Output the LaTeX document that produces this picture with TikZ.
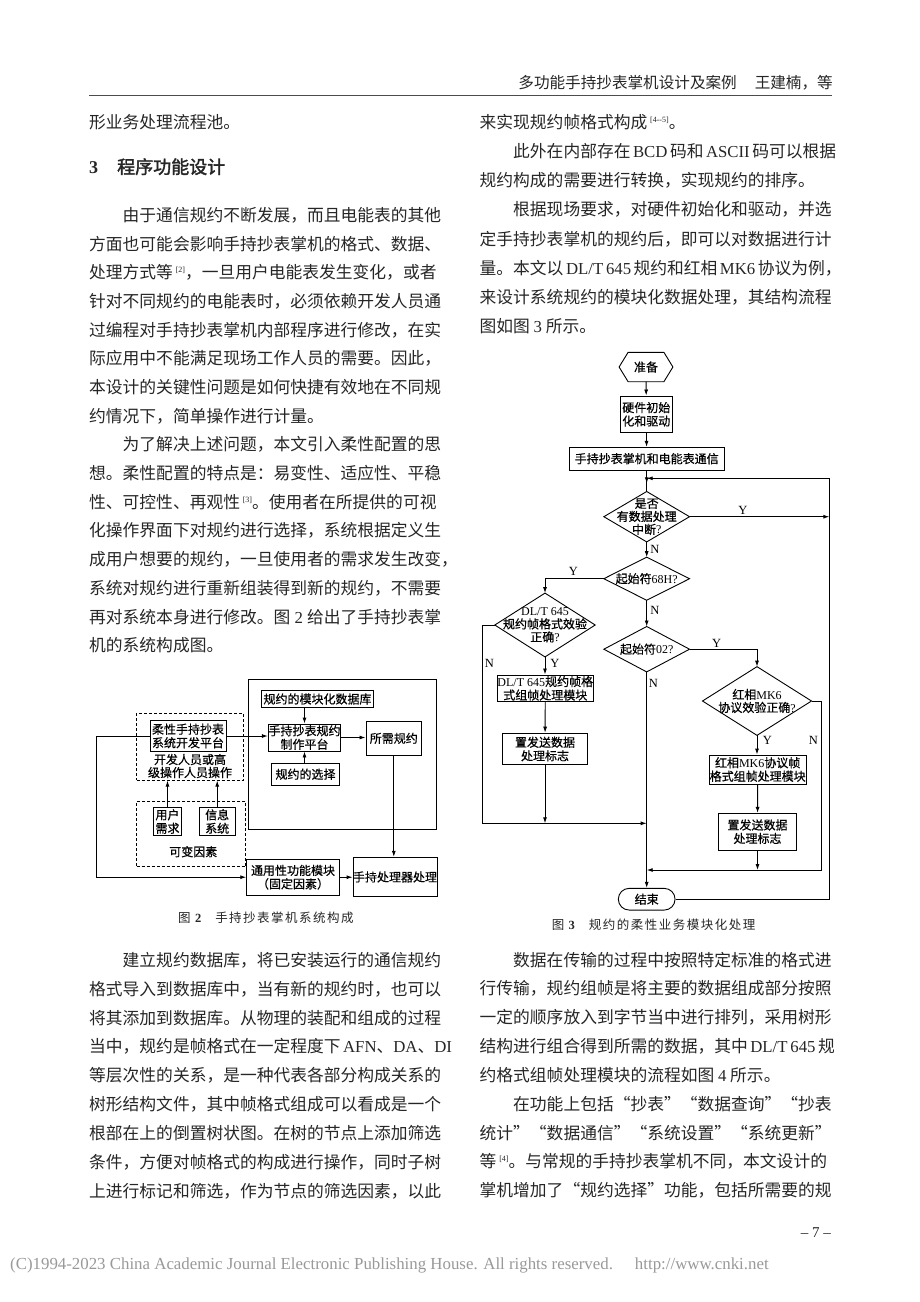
\documentclass[tikz,border=0pt]{standalone}
\usepackage{fontspec}
\usetikzlibrary{arrows.meta}
\setmainfont{Noto Sans CJK SC}
\newfontfamily\tms{Liberation Serif}
\newfontfamily\cjkb[FakeBold=2]{Noto Sans CJK SC}
\newfontfamily\figf[FakeBold=0.6]{Noto Sans CJK SC}
\newfontfamily\capf[LetterSpace=12]{Noto Sans CJK SC}
\XeTeXlinebreaklocale "zh"
\XeTeXlinebreakskip=0pt plus 3pt minus 1pt

% one justified line of a column
\newcommand\fl[1]{\makebox[352pt][s]{#1}}
% citation mark
\newcommand\rf[1]{\,\raisebox{6pt}{\tms\fontsize{8}{8}\selectfont[#1]}}
\newcommand\lat[1]{{\tms #1}}

\begin{document}
\begin{tikzpicture}[x=1pt, y=-1pt, >={Latex[length=6pt,width=4pt]},
  txt/.style={anchor=west, inner sep=0pt, text=black!85, font=\fontsize{16.76}{18}\selectfont},
  blk/.style={draw, line width=0.9pt, inner sep=0pt, align=center, font=\figf\fontsize{12}{13.5}\selectfont},
  dbox/.style={draw, line width=1pt, dash pattern=on 3pt off 2pt, inner sep=0pt},
  ftxt/.style={inner sep=0pt, align=center, font=\figf\fontsize{12}{13}\selectfont},
  yn/.style={inner sep=0pt, font=\tms\fontsize{12.5}{12.5}\selectfont},
  figcap/.style={anchor=west, inner sep=0pt, text=black!85, font=\capf\fontsize{12.5}{12.5}\selectfont},
  ln/.style={line width=0.9pt},
]
  \fill[white] (0,0) rectangle (920,1302);
  \useasboundingbox (0,0) rectangle (920,1302); % page size

  % running head
  \node[anchor=east, inner sep=0pt, text=black!85, font=\fontsize{15.6}{15.6}\selectfont] (head) at (833,83)
    {多功能手持抄表掌机设计及案例\hspace{18pt}王建楠，等};
  \draw[line width=0.8pt, black!70] (89,95) -- (832,95);

  % ------------------- left column
  \node[txt] (l0) at (89,121.7) {形业务处理流程池。};
  \node[txt, font=\fontsize{18}{18}\selectfont] (sec) at (89,166.7)
    {{\tms\bfseries 3}\hspace{19pt}{\cjkb 程序功能设计}};

  \foreach \t [count=\i from 0] in {
    {\fl{　　由于通信规约不断发展，而且电能表的其他}},
    {\fl{方面也可能会影响手持抄表掌机的格式、数据、}},
    {\fl{处理方式等\rf{2}，一旦用户电能表发生变化，或者}},
    {\fl{针对不同规约的电能表时，必须依赖开发人员通}},
    {\fl{过编程对手持抄表掌机内部程序进行修改，在实}},
    {\fl{际应用中不能满足现场工作人员的需要。因此，}},
    {\fl{本设计的关键性问题是如何快捷有效地在不同规}},
    {约情况下，简单操作进行计量。},
    {\fl{　　为了解决上述问题，本文引入柔性配置的思}},
    {\fl{想。柔性配置的特点是：易变性、适应性、平稳}},
    {\fl{性、可控性、再观性\rf{3}。使用者在所提供的可视}},
    {\fl{化操作界面下对规约进行选择，系统根据定义生}},
    {\fl{成用户想要的规约，一旦使用者的需求发生改变，}},
    {\fl{系统对规约进行重新组装得到新的规约，不需要}},
    {\fl{再对系统本身进行修改。图 \lat{2} 给出了手持抄表掌}},
    {机的系统构成图。}} {
    \node[txt] (la\i) at (89,{215+28.7*\i}) {\t};
  }

  \foreach \t [count=\i from 0] in {
    {\fl{　　建立规约数据库，将已安装运行的通信规约}},
    {\fl{格式导入到数据库中，当有新的规约时，也可以}},
    {\fl{将其添加到数据库。从物理的装配和组成的过程}},
    {\fl{当中，规约是帧格式在一定程度下 \lat{AFN}、\lat{DA}、\lat{DI}}},
    {\fl{等层次性的关系，是一种代表各部分构成关系的}},
    {\fl{树形结构文件，其中帧格式组成可以看成是一个}},
    {\fl{根部在上的倒置树状图。在树的节点上添加筛选}},
    {\fl{条件，方便对帧格式的构成进行操作，同时子树}},
    {\fl{上进行标记和筛选，作为节点的筛选因素，以此}}} {
    \node[txt] (lb\i) at (89,{960+28.9*\i}) {\t};
  }

  % ------------------- right column
  \foreach \t [count=\i from 0] in {
    {来实现规约帧格式构成\rf{4--5}。},
    {\fl{　　此外在内部存在 \lat{BCD} 码和 \lat{ASCII} 码可以根据}},
    {规约构成的需要进行转换，实现规约的排序。},
    {\fl{　　根据现场要求，对硬件初始化和驱动，并选}},
    {\fl{定手持抄表掌机的规约后，即可以对数据进行计}},
    {\fl{量。本文以 \lat{DL/T 645} 规约和红相 \lat{MK6} 协议为例，}},
    {\fl{来设计系统规约的模块化数据处理，其结构流程}},
    {图如图 \lat{3} 所示。}} {
    \node[txt] (ra\i) at (479.5,{122+29.2*\i}) {\t};
  }

  \foreach \t [count=\i from 0] in {
    {\fl{　　数据在传输的过程中按照特定标准的格式进}},
    {\fl{行传输，规约组帧是将主要的数据组成部分按照}},
    {\fl{一定的顺序放入到字节当中进行排列，采用树形}},
    {\fl{结构进行组合得到所需的数据，其中 \lat{DL/T 645} 规}},
    {约格式组帧处理模块的流程如图 \lat{4} 所示。},
    {\fl{　　在功能上包括“抄表”“数据查询”“抄表}},
    {\fl{统计”“数据通信”“系统设置”“系统更新”}},
    {\fl{等\rf{4}。与常规的手持抄表掌机不同，本文设计的}},
    {\fl{掌机增加了“规约选择”功能，包括所需要的规}}} {
    \node[txt] (rb\i) at (479.5,{960+28.8*\i}) {\t};
  }

  % ------------------- figure 2
  \node[blk, minimum width=188.4, minimum height=150] (lib) at (342.5,754.3) {};
  \node[blk, minimum width=111.6, minimum height=16.6] (db) at (317.5,699) {规约的模块化数据库};
  \node[dbox, minimum width=106.6, minimum height=66.7] (dev) at (190,746.7) {};
  \node[blk, minimum width=76, minimum height=31.7] (flex) at (188,736) {柔性手持抄表\\系统开发平台};
  \node[ftxt] (devtxt) at (190,766) {开发人员或高\\级操作人员操作};
  \node[blk, minimum width=72.4, minimum height=27] (make) at (304.5,737.5) {手持抄表规约\\制作平台};
  \node[blk, minimum width=55.7, minimum height=33.3] (need) at (393.8,738.3) {所需规约};
  \node[blk, minimum width=67.6, minimum height=21.7] (sel) at (305.5,774.2) {规约的选择};
  \node[dbox, minimum width=109.3, minimum height=65] (var) at (191.3,834.2) {};
  \node[blk, minimum width=28.4, minimum height=28.4] (user) at (167.5,821.5) {用户\\需求};
  \node[blk, minimum width=35.7, minimum height=28.4] (info) at (217.2,821.5) {信息\\系统};
  \node[ftxt] (vartxt) at (193.3,851.7) {可变因素};
  \node[blk, minimum width=92.6, minimum height=35.7] (gen) at (293,877.2) {通用性功能模块\\（固定因素）};
  \node[blk, minimum width=83.4, minimum height=39.4] (cpu) at (395,877) {手持处理器处理};

  \draw[ln,->] (flex.east) -- (flex.east -| make.west);
  \draw[ln,->] (flex.west) -- ++(-52.7,0) |- (gen.west);
  \draw[ln,->] (make.north |- db.south) -- (make.north);
  \draw[ln,->] (make.south |- sel.north) -- (make.south);
  \draw[ln,->] (make.east) -- (make.east -| need.west);
  \draw[ln,->] (need.south) -- (need.south |- cpu.north);
  \draw[ln,->] (gen.east) -- (gen.east -| cpu.west);
  \draw[ln,->] (user.north) -- (user.north |- dev.south);
  \draw[ln,->] (info.north) -- (info.north |- dev.south);

  \node[figcap] (cap2) at (178,918) {图 {\tms\bfseries 2}\hspace{14pt}手持抄表掌机系统构成};

  % ------------------- figure 3
  \node[ftxt, minimum width=53.4, minimum height=29] (prep) at (646,367) {准备};
  \draw[ln] (prep.west) -- ([xshift=9pt]prep.north west) -- ([xshift=-9pt]prep.north east)
    -- (prep.east) -- ([xshift=-9pt]prep.south east) -- ([xshift=9pt]prep.south west) -- cycle;
  \node[blk, minimum width=52.7, minimum height=36.7] (init) at (646.3,414.3) {硬件初始\\化和驱动};
  \node[blk, minimum width=154.7, minimum height=22.7] (comm) at (646.7,458.7) {手持抄表掌机和电能表通信};
  \node[ftxt, minimum width=85.3, minimum height=50] (d1) at (646.7,516.7) {是否\\有数据处理\\中断\lat{?}};
  \node[ftxt, minimum width=85.3, minimum height=42.7] (d2) at (646.7,578.7) {起始符\lat{68H?}};
  \node[ftxt, minimum width=100, minimum height=63.4] (d3) at (545,625) {\lat{DL/T 645}\\规约帧格式效验\\正确\lat{?}};
  \node[ftxt, minimum width=85.3, minimum height=45] (d4) at (646.7,649.2) {起始符\lat{02?}};
  \node[ftxt, minimum width=108.6, minimum height=68.3] (d5) at (757,701) {红相\lat{MK6}\\协议效验正确\lat{?}};
  \foreach \d in {d1,d2,d3,d4,d5}
    \draw[ln] (\d.north) -- (\d.east) -- (\d.south) -- (\d.west) -- cycle;
  \node[blk, minimum width=96, minimum height=26.7] (f645) at (545.3,688.3) {\lat{DL/T 645}规约帧格\\式组帧处理模块};
  \node[blk, minimum width=84.6, minimum height=31.7] (flag1) at (545,749) {置发送数据\\处理标志};
  \node[blk, minimum width=96.7, minimum height=29] (fmk) at (757.7,769.5) {红相\lat{MK6}协议帧\\格式组帧处理模块};
  \node[blk, minimum width=78.4, minimum height=36.7] (flag2) at (757.5,831.7) {置发送数据\\处理标志};
  \node[blk, rounded corners=10.8pt, minimum width=56.7, minimum height=21.7] (stop) at (646.7,899.2) {结束};

  \coordinate (jtop) at (646.7,478.3);
  \coordinate (rt) at (829.3,478.3);
  \coordinate (j1) at (646.7,823.3);
  \coordinate (j2) at (646.7,870);

  \draw[ln,->] (prep) -- (init);
  \draw[ln,->] (init) -- (comm);
  \draw[ln,->] (comm) -- ([yshift=-5pt]jtop);
  \draw[ln] (jtop) -- (d1.north);
  \draw[ln,->] (stop.east) -| (rt) -- (jtop);
  \draw[ln,->] (d1.east) -- (d1.east -| rt);
  \draw[ln,->] (d1) -- (d2);
  \draw[ln,->] (d2.west) -| (d3.north);
  \draw[ln,->] (d2) -- (d4);
  \draw[ln,->] (d4.east) -| (d5.north);
  \draw[ln,->] (d3.south) -- (d3.south |- f645.north);
  \draw[ln,->] (f645) -- (flag1);
  \draw[ln,->] (flag1.south) -- (flag1.south |- j1);
  \draw[ln,->] (d3.west) -- ++(-12.3,0) |- (j1);
  \draw[ln,->] (d4) -- (stop);
  \draw[ln,->] (d5.south) -- (d5.south |- fmk.north);
  \draw[ln,->] (fmk) -- (flag2);
  \draw[ln,->] (flag2.south) -- (flag2.south |- j2);
  \draw[ln,->] (d5.east) -- ++(10.4,0) |- (j2);

  \node[yn] (y1) at (743,510) {Y};
  \node[yn] (n1) at (655,549.3) {N};
  \node[yn] (y2) at (573.3,571.7) {Y};
  \node[yn] (n2) at (655,610) {N};
  \node[yn] (n3) at (489.3,663.3) {N};
  \node[yn] (y3) at (555,663.3) {Y};
  \node[yn] (y4) at (716.7,643.3) {Y};
  \node[yn] (n4) at (653.3,683.3) {N};
  \node[yn] (y5) at (767.3,740) {Y};
  \node[yn] (n5) at (813.3,740) {N};

  \node[figcap] (cap3) at (551.7,925) {图 {\tms\bfseries 3}\hspace{14pt}规约的柔性业务模块化处理};

  % ------------------- foot of page
  \node[anchor=east, inner sep=0pt, text=black!85, font=\tms\fontsize{15}{15}\selectfont] (pg) at (831,1233) {– 7 –};
  \node[anchor=west, inner sep=0pt, text=black!40, font=\tms\fontsize{16.85}{16.85}\selectfont] (foot) at (10,1265)
    {(C)1994-2023 China Academic Journal Electronic Publishing House. All rights reserved.\hspace{22pt}http://www.cnki.net};
\end{tikzpicture}
\end{document}
